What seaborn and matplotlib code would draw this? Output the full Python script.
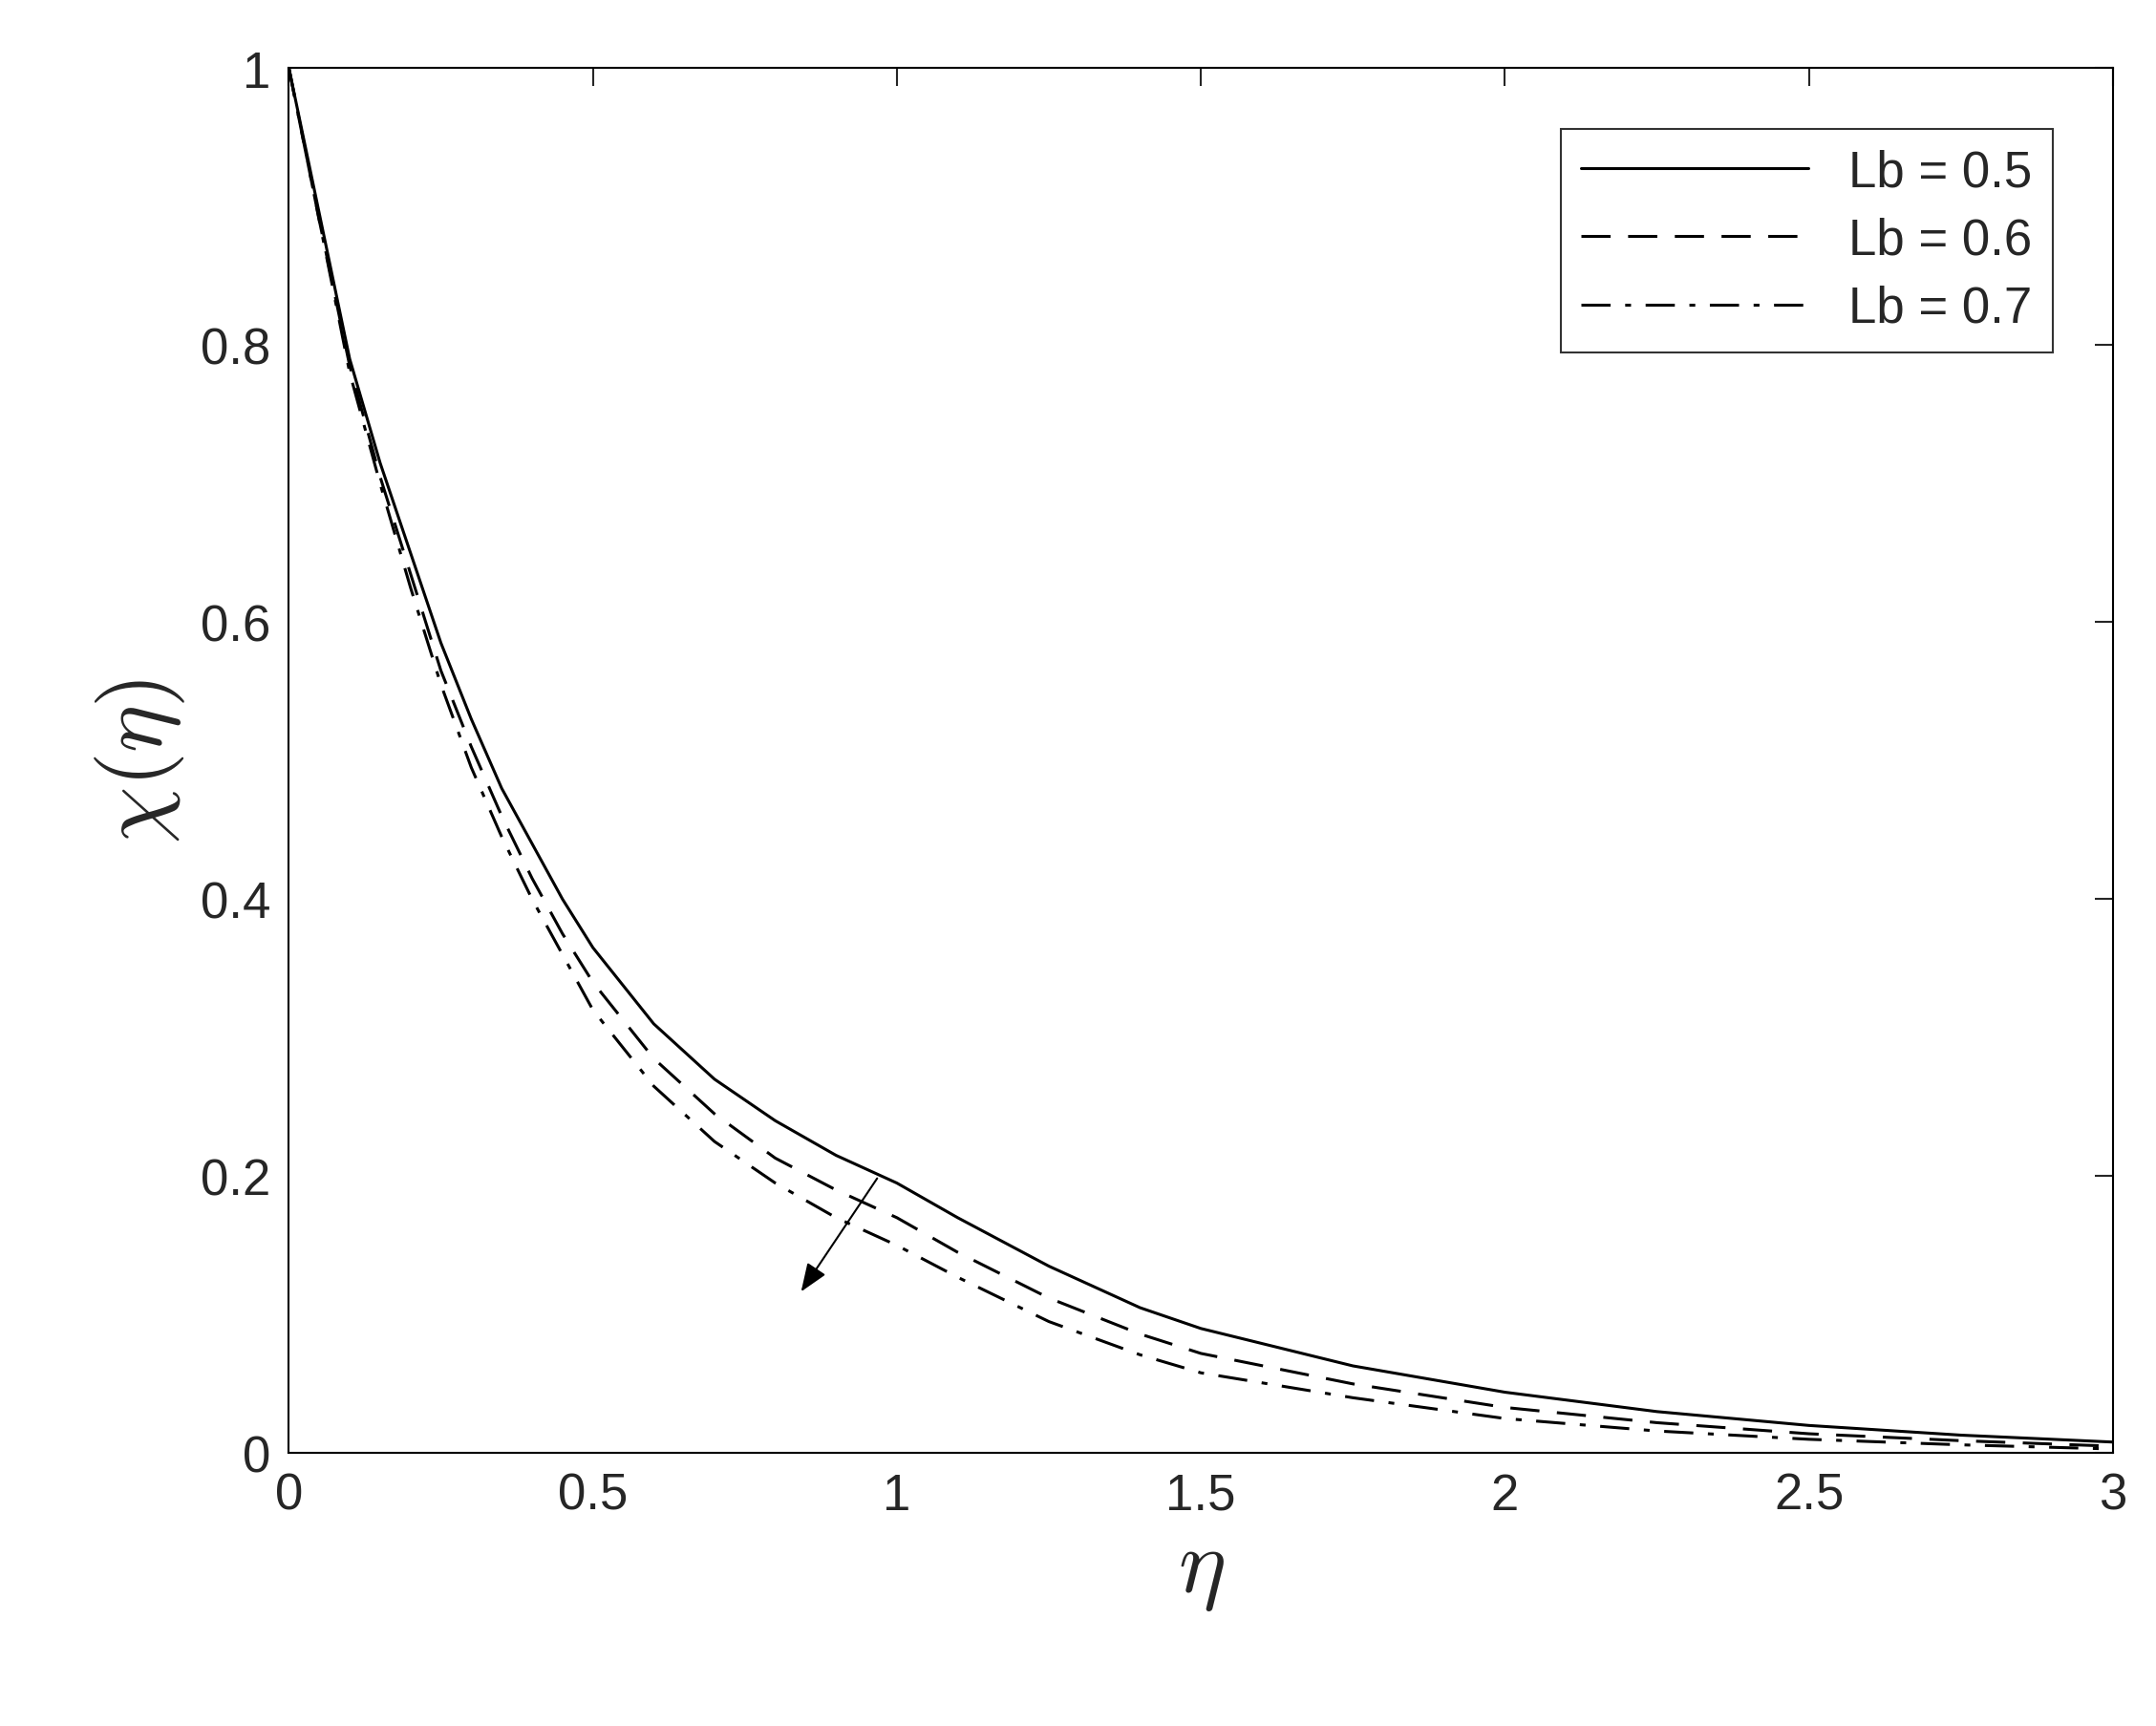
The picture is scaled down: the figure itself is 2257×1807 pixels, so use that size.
import matplotlib
matplotlib.use("Agg")
import matplotlib.pyplot as plt
import seaborn as sns
import pandas as pd

eta = [0, 0.05, 0.1, 0.15, 0.2, 0.25, 0.3, 0.35, 0.4, 0.45, 0.5, 0.6, 0.7, 0.8, 0.9, 1.0,
       1.1, 1.25, 1.4, 1.5, 1.75, 2.0, 2.25, 2.5, 2.75, 3.0]
chi_05 = [1.0, 0.895, 0.79, 0.715, 0.65, 0.585, 0.53, 0.48, 0.44, 0.40, 0.365, 0.31, 0.27,
          0.24, 0.215, 0.195, 0.17, 0.135, 0.105, 0.09, 0.063, 0.044, 0.03, 0.02, 0.013, 0.008]
chi_06 = [1.0, 0.89, 0.785, 0.705, 0.635, 0.565, 0.51, 0.46, 0.415, 0.375, 0.34, 0.285, 0.245,
          0.213, 0.19, 0.17, 0.145, 0.112, 0.086, 0.072, 0.05, 0.033, 0.022, 0.014, 0.009, 0.005]
chi_07 = [1.0, 0.89, 0.78, 0.7, 0.625, 0.555, 0.495, 0.445, 0.40, 0.36, 0.32, 0.265, 0.225,
          0.195, 0.17, 0.15, 0.127, 0.095, 0.071, 0.058, 0.04, 0.025, 0.016, 0.01, 0.006, 0.003]
labels = ["Lb = 0.5", "Lb = 0.6", "Lb = 0.7"]

sns.set_style("white")
plt.rcParams["mathtext.fontset"] = "cm"
plt.rcParams["font.family"] = ["Liberation Sans", "DejaVu Sans"]
fig = plt.figure(figsize=(22.57, 18.08), dpi=100)
ax = fig.add_axes([0.134, 0.158, 0.846, 0.802])
styles = ["-", (0, (10, 6)), (0, (10, 5, 2, 5))]
for ys, lab, ls in zip([chi_05, chi_06, chi_07], labels, styles):
    df = pd.DataFrame({"eta": eta, "chi": ys})
    sns.lineplot(data=df, x="eta", y="chi", ax=ax, color="black", lw=2.2, linestyle=ls, label=lab)
ax.set_xlim(0, 3); ax.set_ylim(0, 1)
ax.set_xticks([0, 0.5, 1, 1.5, 2, 2.5, 3])
ax.set_xticklabels(["0", "0.5", "1", "1.5", "2", "2.5", "3"])
ax.set_yticks([0, 0.2, 0.4, 0.6, 0.8, 1])
ax.set_yticklabels(["0", "0.2", "0.4", "0.6", "0.8", "1"])
ax.tick_params(direction="in", length=14, width=1.5, labelsize=38, top=True, right=True, pad=14)
for s in ax.spines.values():
    s.set_linewidth(1.5); s.set_color("black")
ax.set_xlabel(r"$\eta$", fontsize=68, labelpad=6)
ax.set_ylabel(r"$\chi(\eta)$", fontsize=68, labelpad=10)
ax.annotate("", xy=(0.84, 0.115), xytext=(0.97, 0.2),
            arrowprops=dict(arrowstyle="-|>,head_length=1.8,head_width=0.7", color="black", lw=1.5))
leg = ax.legend(loc="upper right", fontsize=38, frameon=True, fancybox=False,
                edgecolor="black", handlelength=4.5, borderaxespad=1.2, labelspacing=0.4)
leg.get_frame().set_linewidth(1.5)
fig.savefig("out.png", dpi=100)
